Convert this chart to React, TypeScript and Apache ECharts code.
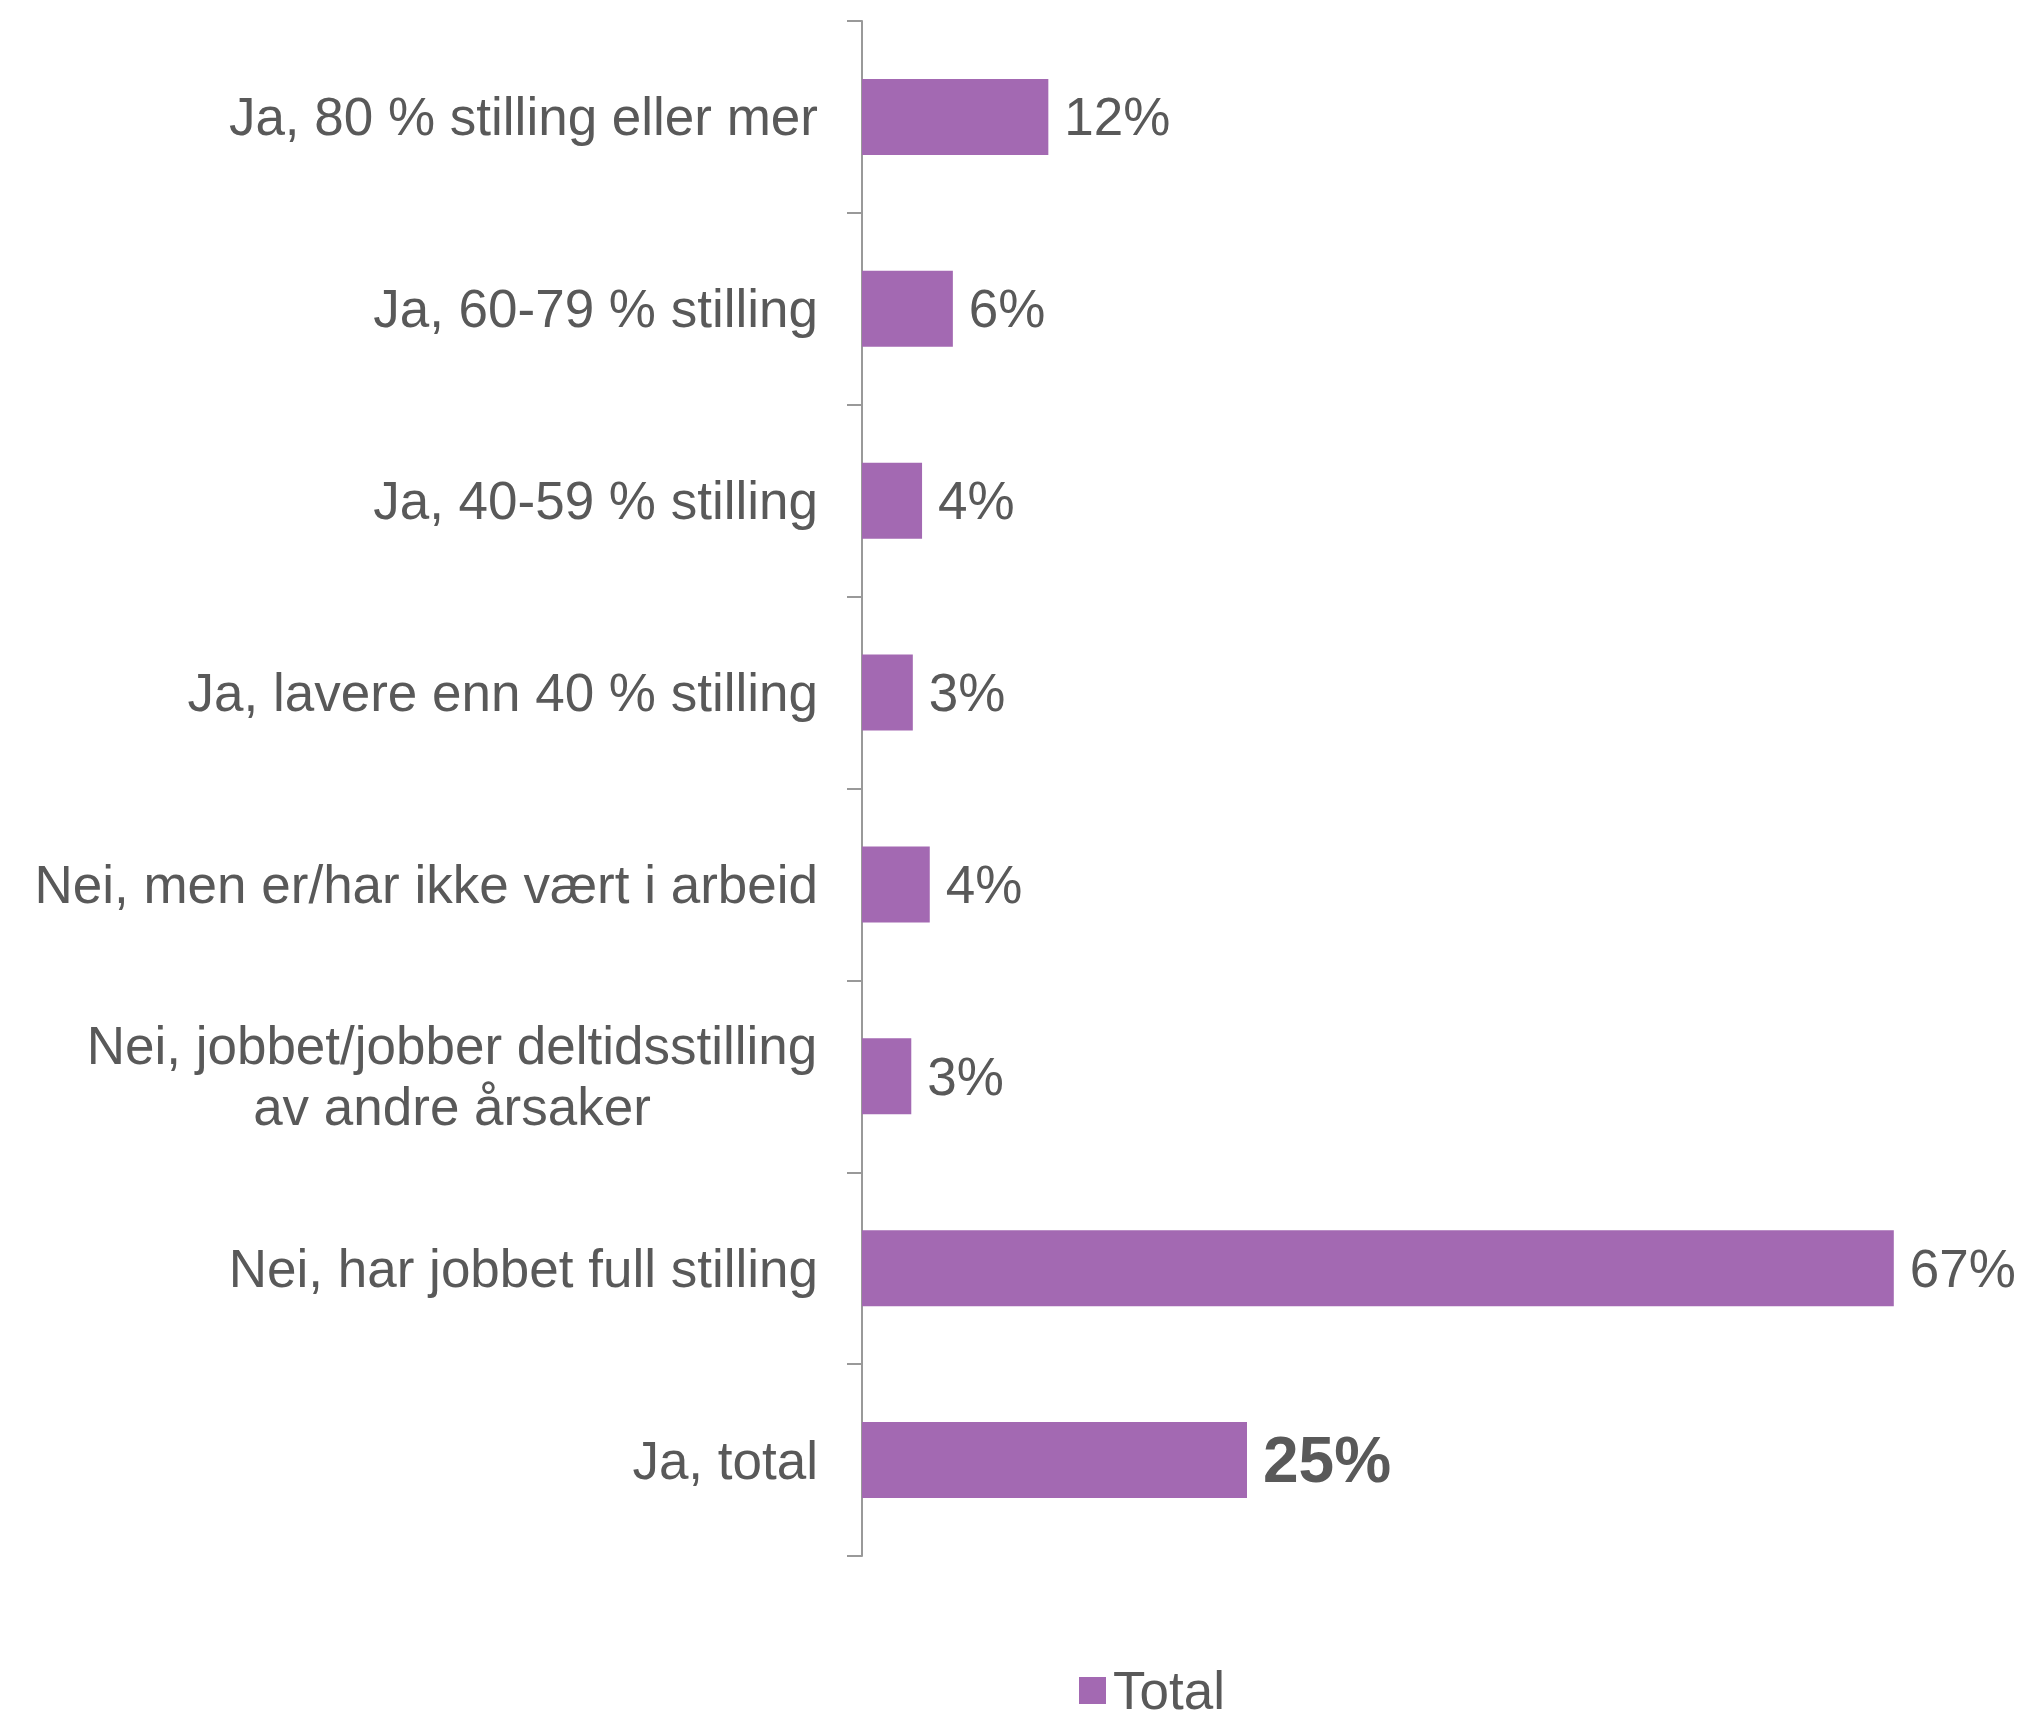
import React, { useEffect, useRef } from "react";
import * as echarts from "echarts";

const categories = [
  "Ja, 80 % stilling eller mer",
  "Ja, 60-79 % stilling",
  "Ja, 40-59 % stilling",
  "Ja, lavere enn 40 % stilling",
  "Nei, men er/har ikke vært i arbeid",
  "Nei, jobbet/jobber deltidsstilling\nav andre årsaker",
  "Nei, har jobbet full stilling",
  "Ja, total",
];
const values = [12.1, 5.9, 3.9, 3.3, 4.4, 3.2, 67, 25];
const seriesName = "Total";
const boldIndex = 7;

const TEXT = "#595959";
const BAR = "#A369B2";
const FONT = "'Liberation Sans', Arial, sans-serif";

export default function App() {
  const ref = useRef<HTMLDivElement>(null);
  useEffect(() => {
    document.body.style.margin = "0";
    if (!ref.current) return;
    const chart = echarts.init(ref.current, undefined, { renderer: "svg" });
    chart.setOption({
      animation: false,
      textStyle: { fontFamily: FONT },
      grid: { left: 862, top: 21, width: 1078, height: 1535, containLabel: false },
      xAxis: {
        type: "value",
        min: 0,
        max: 70,
        show: false,
      },
      yAxis: {
        type: "category",
        inverse: true,
        data: categories,
        axisLine: { show: true, lineStyle: { color: "#999999", width: 2 } },
        axisTick: { show: true, length: 15, lineStyle: { color: "#999999", width: 2 } },
        axisLabel: {
          color: TEXT,
          fontSize: 53,
          fontFamily: FONT,
          margin: 44,
          lineHeight: 61,
          formatter: (v: string) => {
            if (v.indexOf("\n") >= 0) {
              return v
                .split("\n")
                .map((s) => "{c|" + s + "}")
                .join("\n");
            }
            return v;
          },
          rich: {
            c: {
              width: 732,
              align: "center",
              fontSize: 53,
              lineHeight: 61,
              color: TEXT,
              fontFamily: FONT,
            },
          },
        },
      },
      legend: {
        data: [seriesName],
        left: 1074,
        top: 1659,
        itemWidth: 27,
        itemHeight: 27,
        itemGap: 10,
        icon: "rect",
        textStyle: { color: TEXT, fontSize: 53, fontFamily: FONT, padding: [0, 0, 0, 2] },
      },
      series: [
        {
          name: seriesName,
          type: "bar",
          barWidth: 76,
          itemStyle: { color: BAR },
          label: {
            show: true,
            position: "right",
            distance: 16,
            color: TEXT,
            fontSize: 53,
            fontFamily: FONT,
            formatter: (p: any) => Math.round(p.value) + "%",
          },
          data: values.map((v, i) =>
            i === boldIndex
              ? { value: v, label: { fontWeight: "bold", fontSize: 64 } }
              : v
          ),
        },
      ],
    });
    return () => chart.dispose();
  }, []);
  return <div ref={ref} style={{ width: 2024, height: 1719 }} />;
}
